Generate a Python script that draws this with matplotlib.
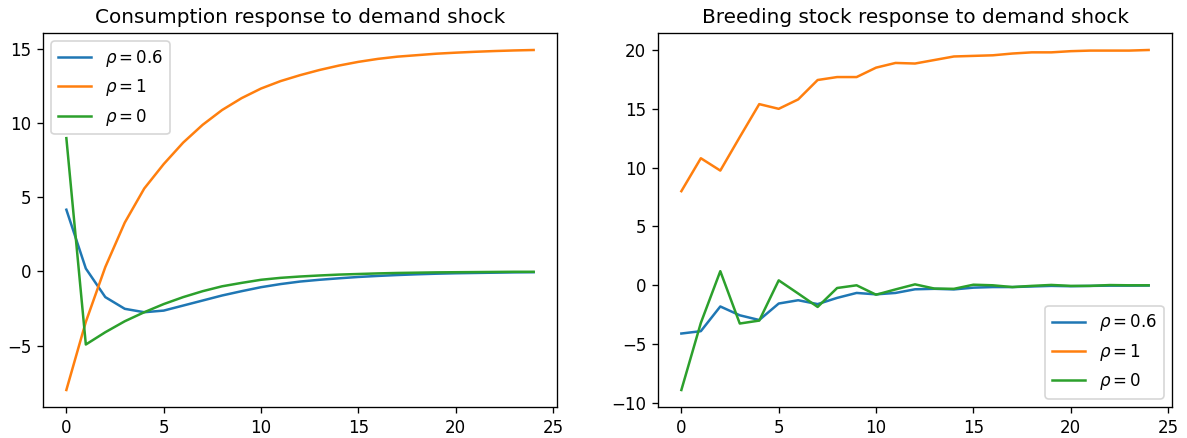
import matplotlib
matplotlib.use("Agg")
import matplotlib.pyplot as plt
import numpy as np

periods = list(range(25))
labels = [r"$\rho=0.6$", r"$\rho=1$", r"$\rho=0$"]

cons_rho06 = [4.17, 0.2, -1.73, -2.52, -2.75, -2.64, -2.3, -1.96, -1.62, -1.33, -1.06, -0.85,
              -0.68, -0.56, -0.46, -0.37, -0.3, -0.24, -0.19, -0.15, -0.12, -0.1, -0.08, -0.06, -0.05]
cons_rho1 = [-8.0, -3.4, 0.3, 3.3, 5.6, 7.25, 8.7, 9.9, 10.9, 11.7, 12.35, 12.85, 13.25,
             13.6, 13.9, 14.15, 14.35, 14.5, 14.6, 14.7, 14.77, 14.83, 14.88, 14.92, 14.95]
cons_rho0 = [9.0, -4.93, -4.1, -3.36, -2.75, -2.2, -1.73, -1.33, -1.0, -0.77, -0.56, -0.43,
             -0.34, -0.27, -0.21, -0.17, -0.13, -0.1, -0.08, -0.06, -0.05, -0.04, -0.03, -0.02, -0.02]

stock_rho06 = [-4.1, -3.9, -1.8, -2.55, -2.95, -1.55, -1.27, -1.6, -1.07, -0.65, -0.77, -0.65,
               -0.34, -0.3, -0.35, -0.2, -0.15, -0.15, -0.1, -0.05, -0.08, -0.05, -0.03, -0.03, -0.02]
stock_rho1 = [8.0, 10.8, 9.75, 12.6, 15.4, 15.0, 15.8, 17.45, 17.7, 17.7, 18.5, 18.9, 18.85,
              19.15, 19.45, 19.5, 19.55, 19.7, 19.8, 19.8, 19.9, 19.95, 19.95, 19.95, 20.0]
stock_rho0 = [-8.9, -3.2, 1.2, -3.25, -3.0, 0.42, -0.7, -1.84, -0.23, 0.0, -0.8, -0.35, 0.08,
              -0.28, -0.3, 0.05, 0.0, -0.15, -0.05, 0.03, -0.05, -0.05, 0.02, 0.0, 0.0]

DPI = 120
fig, axes = plt.subplots(1, 2, figsize=(1187 / DPI, 438 / DPI), dpi=DPI)
fig.subplots_adjust(left=43/1187, right=1172/1187, top=1-33/438, bottom=1-407/438,
                    wspace=101/514)

ax = axes[0]
for s, lab in zip([cons_rho06, cons_rho1, cons_rho0], labels):
    ax.plot(periods, s, label=lab)
ax.set_title("Consumption response to demand shock")
ax.legend(loc="upper left")

ax = axes[1]
for s, lab in zip([stock_rho06, stock_rho1, stock_rho0], labels):
    ax.plot(periods, s, label=lab)
ax.set_title("Breeding stock response to demand shock")
ax.legend(loc="lower right")

fig.savefig("out.png", dpi=DPI)
